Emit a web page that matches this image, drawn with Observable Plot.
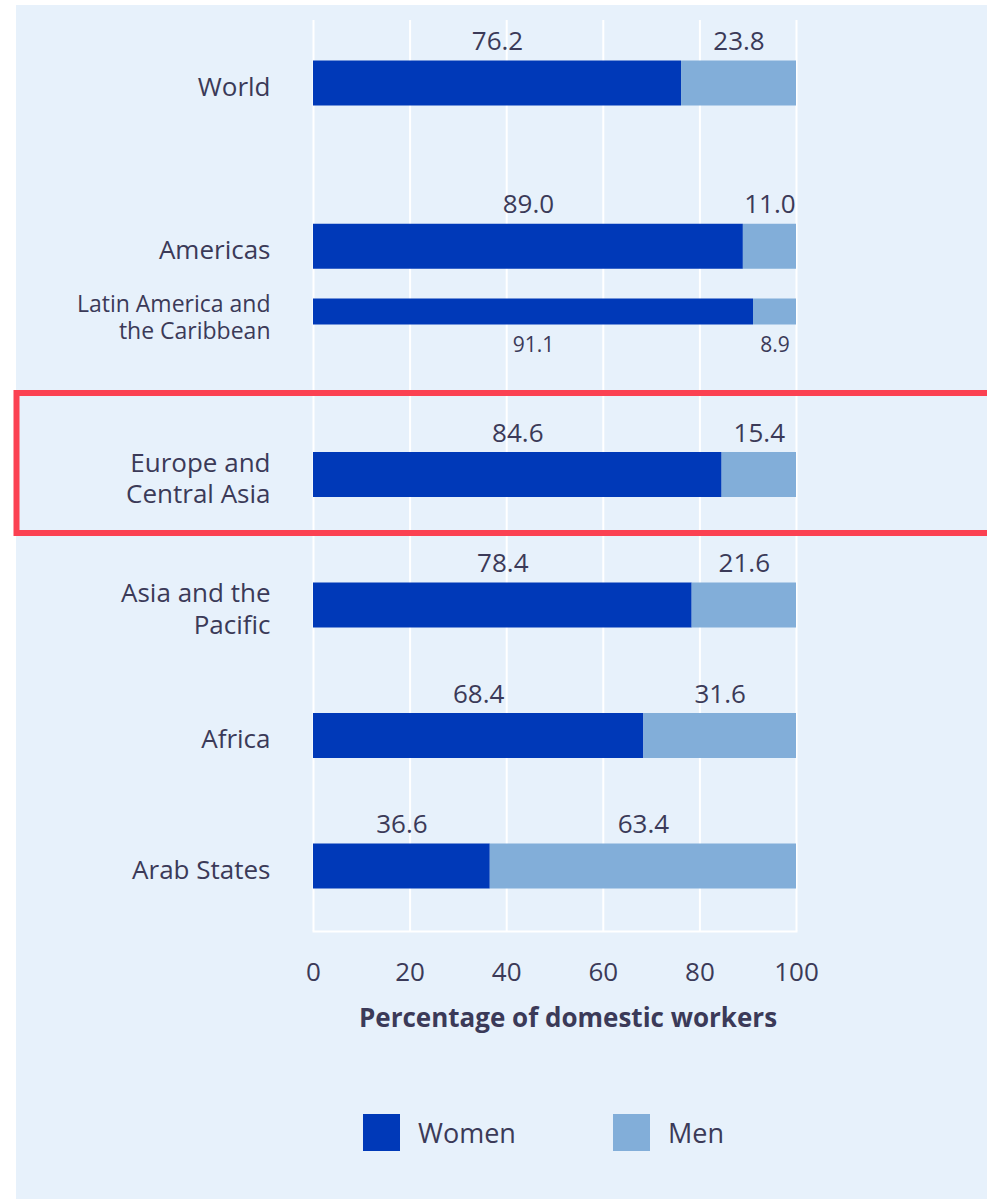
<!DOCTYPE html>
<html><head><meta charset="utf-8">
<script src="https://cdn.jsdelivr.net/npm/d3@7"></script>
<script src="https://cdn.jsdelivr.net/npm/@observablehq/plot@0.6"></script>
<style>
html,body{margin:0;padding:0;background:#fff;}
#page{position:relative;width:987px;height:1199px;overflow:hidden;font-family:"Open Sans",sans-serif;color:#3b3a58;}
#panel{position:absolute;left:16px;top:5px;width:971px;height:1194px;background:#e7f1fb;}
#chart{position:absolute;left:0;top:0;}
#legend{position:absolute;top:1114px;left:363px;display:flex;font-size:27px;}
.item{display:flex;align-items:center;width:250px;height:37px;}
.sw{width:37px;height:37px;margin-right:18px;flex:none;}
</style></head>
<body><div id="page"><div id="panel"></div><div id="chart"></div><div id="legend"></div></div>
<script>
const regions = ["World","Americas","Latin America and the Caribbean","Europe and Central Asia","Asia and the Pacific","Africa","Arab States"];
const regionLabels = ["World","Americas","Latin America and\nthe Caribbean","Europe and\nCentral Asia","Asia and the\nPacific","Africa","Arab States"];
const women = [76.2, 89.0, 91.1, 84.6, 78.4, 68.4, 36.6];
const men = [23.8, 11.0, 8.9, 15.4, 21.6, 31.6, 63.4];
const series = ["Women","Men"];
const colors = ["#0039b8","#82aed9"];
const xTicks = [0,20,40,60,80,100];
const axisTitle = "Percentage of domestic workers";
const subRegions = ["Latin America and the Caribbean"];
const highlighted = "Europe and Central Asia";
// vertical order of the rows, with empty slots between groups
const rowLayout = ["World",null,null,null,null,"Americas",null,"Latin America and the Caribbean",null,null,null,null,"Europe and Central Asia",null,null,null,"Asia and the Pacific",null,null,null,"Africa",null,null,null,"Arab States"];

const yDomain = rowLayout.map((d,i)=> d ?? `gap${i}`);
const segs = regions.flatMap((r,i)=>[
  {region:r, series:"Women", x1:0, x2:women[i], value:women[i]},
  {region:r, series:"Men", x1:women[i], x2:women[i]+men[i], value:men[i]}
]);
const isSub = d => subRegions.includes(d.region);
const mainSegs = segs.filter(d=>!isSub(d)), subSegs = segs.filter(isSub);
const labs = regions.map((r,i)=>({region:r, label:regionLabels[i]}));
const fmt = d => d.value.toFixed(1);
const mid = d => (d.x1+d.x2)/2;
const ink = "#3b3a58";

const plot = Plot.plot({
  width:987, height:1060,
  marginTop:20, marginBottom:129, marginLeft:313, marginRight:191,
  style:{background:"transparent", fontFamily:"'Open Sans', sans-serif", color:ink, overflow:"visible"},
  x:{domain:[0,100], axis:null},
  y:{type:"point", domain:yDomain, axis:null, padding:0, round:false, insetTop:62.5, insetBottom:65.5},
  color:{domain:series, range:colors},
  marks:[
    Plot.ruleX(xTicks, {stroke:"#fff", strokeWidth:2}),
    Plot.frame({anchor:"bottom", stroke:"#fff", strokeWidth:2}),
    Plot.ruleY(mainSegs, {y:"region", x1:"x1", x2:"x2", stroke:"series", strokeWidth:45}),
    Plot.ruleY(subSegs, {y:"region", x1:"x1", x2:"x2", stroke:"series", strokeWidth:26}),
    Plot.text(mainSegs, {x:mid, y:"region", text:fmt, dy:-41, fontSize:26, fill:ink}),
    Plot.text(subSegs, {x:mid, y:"region", text:fmt, dy:34, fontSize:21, fill:ink}),
    Plot.text(labs.filter(d=>!subRegions.includes(d.region)), {y:"region", text:"label", frameAnchor:"left", dx:-43, dy:3, textAnchor:"end", fontSize:26, lineHeight:1.2, fill:ink}),
    Plot.text(labs.filter(d=>subRegions.includes(d.region)), {y:"region", text:"label", frameAnchor:"left", dx:-43, dy:5, textAnchor:"end", fontSize:23, lineHeight:1.18, fill:ink}),
    Plot.axisX({ticks:xTicks, tickSize:0, tickPadding:31, fontSize:26, label:null, fill:ink}),
    Plot.text([axisTitle], {frameAnchor:"bottom", dx:13, dy:95, fontSize:26, fontWeight:"bold", fill:ink})
  ]
});
document.getElementById("chart").appendChild(plot);

// highlight box around the highlighted row, positioned from the y scale
const yE = plot.scale("y").apply(highlighted);
d3.select(plot).append("rect")
  .attr("x",16.5).attr("y",yE-81).attr("width",990).attr("height",140)
  .attr("fill","none").attr("stroke","#fb4152").attr("stroke-width",6);

const leg = d3.select("#legend");
series.forEach((s,i)=>{
  const it = leg.append("div").attr("class","item");
  it.append("div").attr("class","sw").style("background",colors[i]);
  it.append("span").text(s);
});
</script></body></html>
